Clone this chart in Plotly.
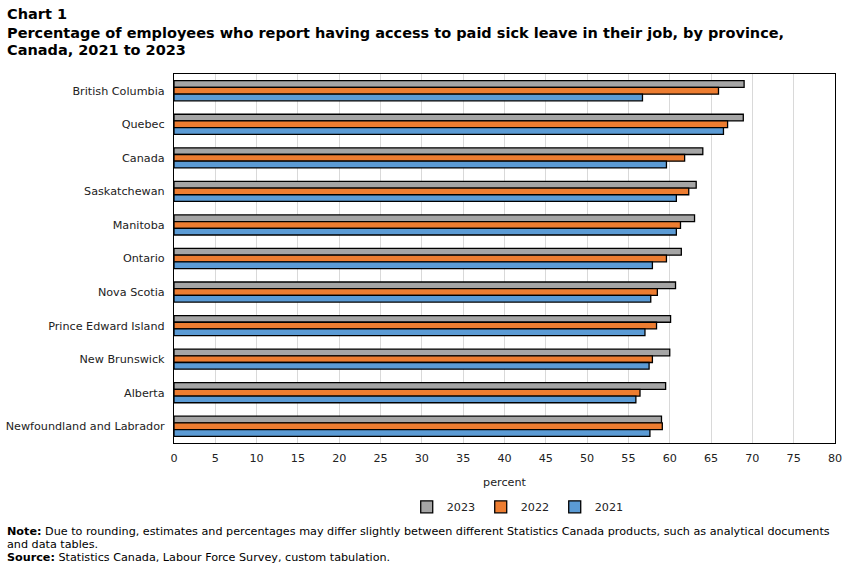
import plotly.graph_objects as go

provinces = ["British Columbia", "Quebec", "Canada", "Saskatchewan", "Manitoba", "Ontario",
             "Nova Scotia", "Prince Edward Island", "New Brunswick", "Alberta",
             "Newfoundland and Labrador"]
v2023 = [69.0, 68.9, 64.0, 63.2, 63.0, 61.4, 60.7, 60.1, 60.0, 59.5, 59.0]
v2022 = [65.9, 67.0, 61.8, 62.3, 61.3, 59.6, 58.5, 58.4, 57.9, 56.4, 59.1]
v2021 = [56.7, 66.5, 59.6, 60.8, 60.8, 57.9, 57.7, 57.0, 57.5, 55.9, 57.6]
x_ticks = list(range(0, 81, 5))

FONT = "DejaVu Sans, Verdana, sans-serif"
L, R, T, B = 174, 15, 74, 125
W, H = 850, 568
plot_w = W - L - R
plot_h = H - T - B

fig = go.Figure()
for name, vals, col in [("2023", v2023, "#A5A5A5"), ("2022", v2022, "#ED7D31"), ("2021", v2021, "#5B9BD5")]:
    fig.add_trace(go.Bar(
        y=provinces, x=vals, name=name, orientation="h",
        marker=dict(color=col, line=dict(color="black", width=1.3)),
        hovertemplate="%{y}: %{x}<extra>" + name + "</extra>",
    ))

fig.update_layout(
    width=W, height=H,
    margin=dict(l=L, r=R, t=T, b=B, autoexpand=False),
    paper_bgcolor="white", plot_bgcolor="white",
    barmode="group", bargap=0.4, bargroupgap=0,
    font=dict(family=FONT, size=11.2, color="#222222"),
    xaxis=dict(
        range=[0, 80], tickvals=x_ticks, ticktext=[str(t) for t in x_ticks],
        showgrid=True, gridcolor="#D9D9D9", gridwidth=1,
        showline=True, linecolor="black", linewidth=1.3, mirror=True,
        ticks="outside", ticklen=4, tickcolor="rgba(0,0,0,0)",
        zeroline=False, automargin=False,
        title=dict(text="percent", standoff=14, font=dict(size=11.2)),
    ),
    yaxis=dict(
        autorange="reversed", automargin=False,
        showline=True, linecolor="black", linewidth=1.3, mirror=True,
        ticks="outside", ticklen=6, tickcolor="rgba(0,0,0,0)",
        showgrid=False,
    ),
    legend=dict(
        orientation="h", x=0.52, xanchor="center", y=-0.173, yanchor="middle",
        font=dict(size=11.2), itemwidth=30, traceorder="normal",
        entrywidth=29, entrywidthmode="pixels",
    ),
    showlegend=True,
)

titles = [
    ("<b>Chart 1</b>", 14),
    ("<b>Percentage of employees who report having access to paid sick leave in their job, by province,</b>", 33),
    ("<b>Canada, 2021 to 2023</b>", 50),
]
for txt, ypx in titles:
    fig.add_annotation(
        text=txt, xref="paper", yref="paper",
        x=(5 - L) / plot_w, xanchor="left",
        y=(H - B - ypx) / plot_h, yanchor="middle",
        showarrow=False, font=dict(family=FONT, size=14.5, color="black"), align="left",
    )

notes = [
    ("<b>Note:</b> Due to rounding, estimates and percentages may differ slightly between different Statistics Canada products, such as analytical documents", 531),
    ("and data tables.", 544),
    ("<b>Source:</b> Statistics Canada, Labour Force Survey, custom tabulation.", 557),
]
for txt, ypx in notes:
    fig.add_annotation(
        text=txt, xref="paper", yref="paper",
        x=(5 - L) / plot_w, xanchor="left",
        y=(H - B - ypx) / plot_h, yanchor="middle",
        showarrow=False, font=dict(family=FONT, size=11.2, color="black"), align="left",
    )

fig.write_html("out.html")
